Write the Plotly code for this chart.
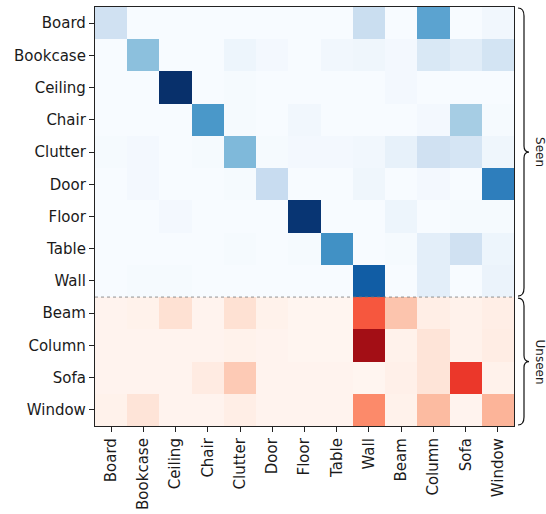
import plotly.graph_objects as go

classes = ["Board", "Bookcase", "Ceiling", "Chair", "Clutter", "Door", "Floor",
           "Table", "Wall", "Beam", "Column", "Sofa", "Window"]
seen_rows = ["Board", "Bookcase", "Ceiling", "Chair", "Clutter", "Door", "Floor", "Table", "Wall"]
unseen_rows = ["Beam", "Column", "Sofa", "Window"]

# columns: Board Bookcase Ceiling Chair Clutter Door Floor Table Wall Beam Column Sofa Window
seen_values = [
    [0.20, 0.00, 0.00, 0.00, 0.00, 0.00, 0.00, 0.00, 0.23, 0.00, 0.55, 0.00, 0.03],
    [0.00, 0.42, 0.00, 0.00, 0.05, 0.02, 0.00, 0.03, 0.04, 0.02, 0.15, 0.11, 0.18],
    [0.00, 0.00, 1.00, 0.00, 0.01, 0.00, 0.00, 0.00, 0.00, 0.02, 0.00, 0.00, 0.00],
    [0.00, 0.00, 0.00, 0.60, 0.01, 0.00, 0.03, 0.00, 0.00, 0.00, 0.02, 0.35, 0.01],
    [0.01, 0.02, 0.00, 0.01, 0.45, 0.01, 0.02, 0.02, 0.03, 0.08, 0.20, 0.17, 0.04],
    [0.00, 0.02, 0.00, 0.00, 0.01, 0.24, 0.00, 0.00, 0.04, 0.00, 0.02, 0.00, 0.70],
    [0.00, 0.00, 0.02, 0.00, 0.00, 0.00, 0.98, 0.00, 0.00, 0.05, 0.00, 0.01, 0.01],
    [0.00, 0.00, 0.00, 0.00, 0.01, 0.00, 0.01, 0.63, 0.00, 0.01, 0.10, 0.20, 0.05],
    [0.00, 0.01, 0.01, 0.00, 0.00, 0.00, 0.00, 0.00, 0.83, 0.00, 0.10, 0.00, 0.06],
]
unseen_values = [
    [0.01, 0.02, 0.12, 0.01, 0.12, 0.02, 0.00, 0.00, 0.55, 0.22, 0.04, 0.02, 0.04],
    [0.01, 0.01, 0.01, 0.01, 0.02, 0.01, 0.00, 0.00, 0.88, 0.02, 0.10, 0.02, 0.05],
    [0.01, 0.01, 0.01, 0.06, 0.20, 0.01, 0.01, 0.01, 0.00, 0.03, 0.10, 0.64, 0.02],
    [0.02, 0.10, 0.01, 0.01, 0.04, 0.01, 0.01, 0.01, 0.40, 0.02, 0.25, 0.01, 0.27],
]

blues = [[0.0, "#f7fbff"], [0.125, "#deebf7"], [0.25, "#c6dbef"], [0.375, "#9ecae1"],
         [0.5, "#6baed6"], [0.625, "#4292c6"], [0.75, "#2171b5"], [0.875, "#08519c"],
         [1.0, "#08306b"]]
reds = [[0.0, "#fff5f0"], [0.125, "#fee0d2"], [0.25, "#fcbba1"], [0.375, "#fc9272"],
        [0.5, "#fb6a4a"], [0.625, "#ef3b2c"], [0.75, "#cb181d"], [0.875, "#a50f15"],
        [1.0, "#67000d"]]

fig = go.Figure()
fig.add_trace(go.Heatmap(z=seen_values, x=classes, y=seen_rows, colorscale=blues,
                         zmin=0, zmax=1, showscale=False, hoverinfo="skip"))
fig.add_trace(go.Heatmap(z=unseen_values, x=classes, y=unseen_rows, colorscale=reds,
                         zmin=0, zmax=1, showscale=False, hoverinfo="skip"))

W, H = 546, 514
L, R, T, B = 95, 514, 7, 426


def px(xp):
    return (xp - L) / (R - L)


def py(yp):
    return (B - yp) / (B - T)


def brace(top, bot):
    a, b, c = 518, 524, 529
    m = (top + bot) / 2
    pts = [
        f"M {px(a)},{py(top)}",
        f"Q {px(b)},{py(top)} {px(b)},{py(top + 8)}",
        f"L {px(b)},{py(m - 6)}",
        f"Q {px(b)},{py(m)} {px(c)},{py(m)}",
        f"Q {px(b)},{py(m)} {px(b)},{py(m + 6)}",
        f"L {px(b)},{py(bot - 8)}",
        f"Q {px(b)},{py(bot)} {px(a)},{py(bot)}",
    ]
    return dict(type="path", xref="paper", yref="paper", path=" ".join(pts),
                line=dict(color="#111111", width=1.2))


split = T + (B - T) * len(seen_rows) / len(classes)

fig.update_layout(
    width=W, height=H,
    margin=dict(l=L, r=W - R, t=T, b=H - B),
    paper_bgcolor="white", plot_bgcolor="white",
    font=dict(family="DejaVu Sans", size=15, color="#1a1a1a"),
    xaxis=dict(type="category", categoryorder="array", categoryarray=classes,
               tickangle=-90, ticks="outside", ticklen=5, tickcolor="#222222",
               showline=True, linecolor="#222222", linewidth=1.2, mirror=True,
               showgrid=False, zeroline=False, automargin=False),
    yaxis=dict(type="category", categoryorder="array", categoryarray=classes,
               autorange="reversed", ticks="outside", ticklen=5, tickcolor="#222222",
               showline=True, linecolor="#222222", linewidth=1.2, mirror=True,
               showgrid=False, zeroline=False, automargin=False),
    shapes=[
        dict(type="line", xref="paper", yref="paper", x0=0, x1=1,
             y0=py(split), y1=py(split), line=dict(color="#777777", width=0.8, dash="dot")),
        brace(T + 1, split - 1),
        brace(split + 1, B - 1),
    ],
    annotations=[
        dict(text="Seen", xref="paper", yref="paper", x=px(540), y=py((T + split) / 2),
             xanchor="center", yanchor="middle",
             showarrow=False, textangle=90, font=dict(size=12, family="DejaVu Sans")),
        dict(text="Unseen", xref="paper", yref="paper", x=px(540), y=py((split + B) / 2),
             xanchor="center", yanchor="middle",
             showarrow=False, textangle=90, font=dict(size=12, family="DejaVu Sans")),
    ],
)

fig.write_html("out.html", config={"displayModeBar": False},
               post_script="document.body.style.margin='0';")
